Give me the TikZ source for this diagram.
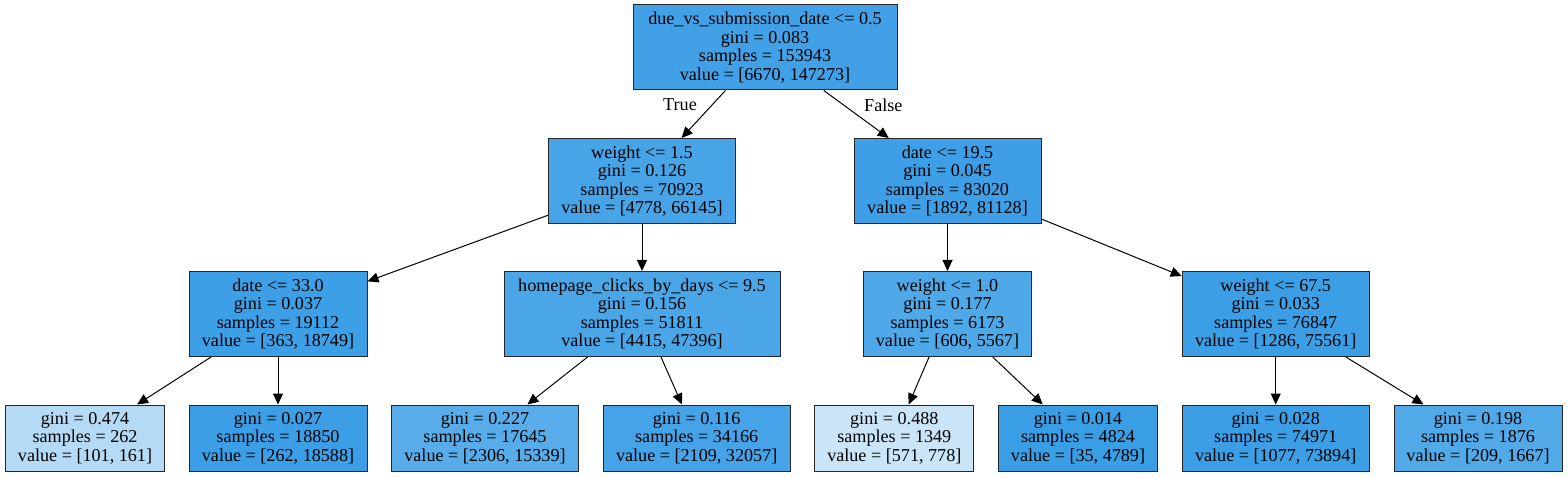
\documentclass[tikz,border=0pt]{standalone}
\usepackage{fontspec}
\setmainfont{Liberation Serif}
\usetikzlibrary{arrows.meta}
\definecolor{cls}{RGB}{57,157,229}
\tikzset{
  tn/.style={draw=black!85, line width=1bp, inner sep=0pt, align=center,
    font=\fontsize{18.2}{18.6}\selectfont, minimum height=85bp},
  lf/.style={tn, minimum height=66bp},
  arr/.style={-{Triangle[length=11bp,width=10bp]}, line width=1bp, black},
  lab/.style={font=\fontsize{18.2}{18.6}\selectfont, inner sep=0pt}
}
\begin{document}
\begin{tikzpicture}[x=1bp,y=-1bp]
\useasboundingbox (0,0) rectangle (1568,477);
% internal nodes
\node[tn, fill=cls!95.5!white, minimum width=264bp] (root) at (765,47.5)
  {due\_vs\_submission\_date <= 0.5\\gini = 0.083\\samples = 153943\\value = [6670, 147273]};
\node[tn, fill=cls!92.8!white, minimum width=187bp] (a) at (642,181)
  {weight <= 1.5\\gini = 0.126\\samples = 70923\\value = [4778, 66145]};
\node[tn, fill=cls!97.7!white, minimum width=187bp] (b) at (947.5,181)
  {date <= 19.5\\gini = 0.045\\samples = 83020\\value = [1892, 81128]};
\node[tn, fill=cls!98.1!white, minimum width=178bp] (aa) at (278,314)
  {date <= 33.0\\gini = 0.037\\samples = 19112\\value = [363, 18749]};
\node[tn, fill=cls!90.7!white, minimum width=276bp] (ab) at (642,314)
  {homepage\_clicks\_by\_days <= 9.5\\gini = 0.156\\samples = 51811\\value = [4415, 47396]};
\node[tn, fill=cls!89.1!white, minimum width=168bp] (ba) at (947.5,314)
  {weight <= 1.0\\gini = 0.177\\samples = 6173\\value = [606, 5567]};
\node[tn, fill=cls!98.3!white, minimum width=187bp] (bb) at (1275.7,314)
  {weight <= 67.5\\gini = 0.033\\samples = 76847\\value = [1286, 75561]};
% leaves
\node[lf, fill=cls!37.3!white, minimum width=159bp] (l1) at (85,438)
  {gini = 0.474\\samples = 262\\value = [101, 161]};
\node[lf, fill=cls!98.6!white, minimum width=178bp] (l2) at (278,438)
  {gini = 0.027\\samples = 18850\\value = [262, 18588]};
\node[lf, fill=cls!85.0!white, minimum width=187bp] (l3) at (485,438)
  {gini = 0.227\\samples = 17645\\value = [2306, 15339]};
\node[lf, fill=cls!93.4!white, minimum width=187bp] (l4) at (696.7,438)
  {gini = 0.116\\samples = 34166\\value = [2109, 32057]};
\node[lf, fill=cls!26.6!white, minimum width=159bp] (l5) at (894.3,438)
  {gini = 0.488\\samples = 1349\\value = [571, 778]};
\node[lf, fill=cls!99.3!white, minimum width=159bp] (l6) at (1078,438)
  {gini = 0.014\\samples = 4824\\value = [35, 4789]};
\node[lf, fill=cls!98.5!white, minimum width=187bp] (l7) at (1275.7,438)
  {gini = 0.028\\samples = 74971\\value = [1077, 73894]};
\node[lf, fill=cls!87.5!white, minimum width=168bp] (l8) at (1478,438)
  {gini = 0.198\\samples = 1876\\value = [209, 1667]};
% edges
\draw[arr] (root) -- (a);
\draw[arr] (root) -- (b);
\draw[arr] (a) -- (aa);
\draw[arr] (a) -- (ab);
\draw[arr] (b) -- (ba);
\draw[arr] (b) -- (bb);
\draw[arr] (aa) -- (l1);
\draw[arr] (aa) -- (l2);
\draw[arr] (ab) -- (l3);
\draw[arr] (ab) -- (l4);
\draw[arr] (ba) -- (l5);
\draw[arr] (ba) -- (l6);
\draw[arr] (bb) -- (l7);
\draw[arr] (bb) -- (l8);
% edge labels
\node[lab] (ltrue) at (680,105) {True};
\node[lab] (lfalse) at (883.3,105) {False};
\end{tikzpicture}
\end{document}
